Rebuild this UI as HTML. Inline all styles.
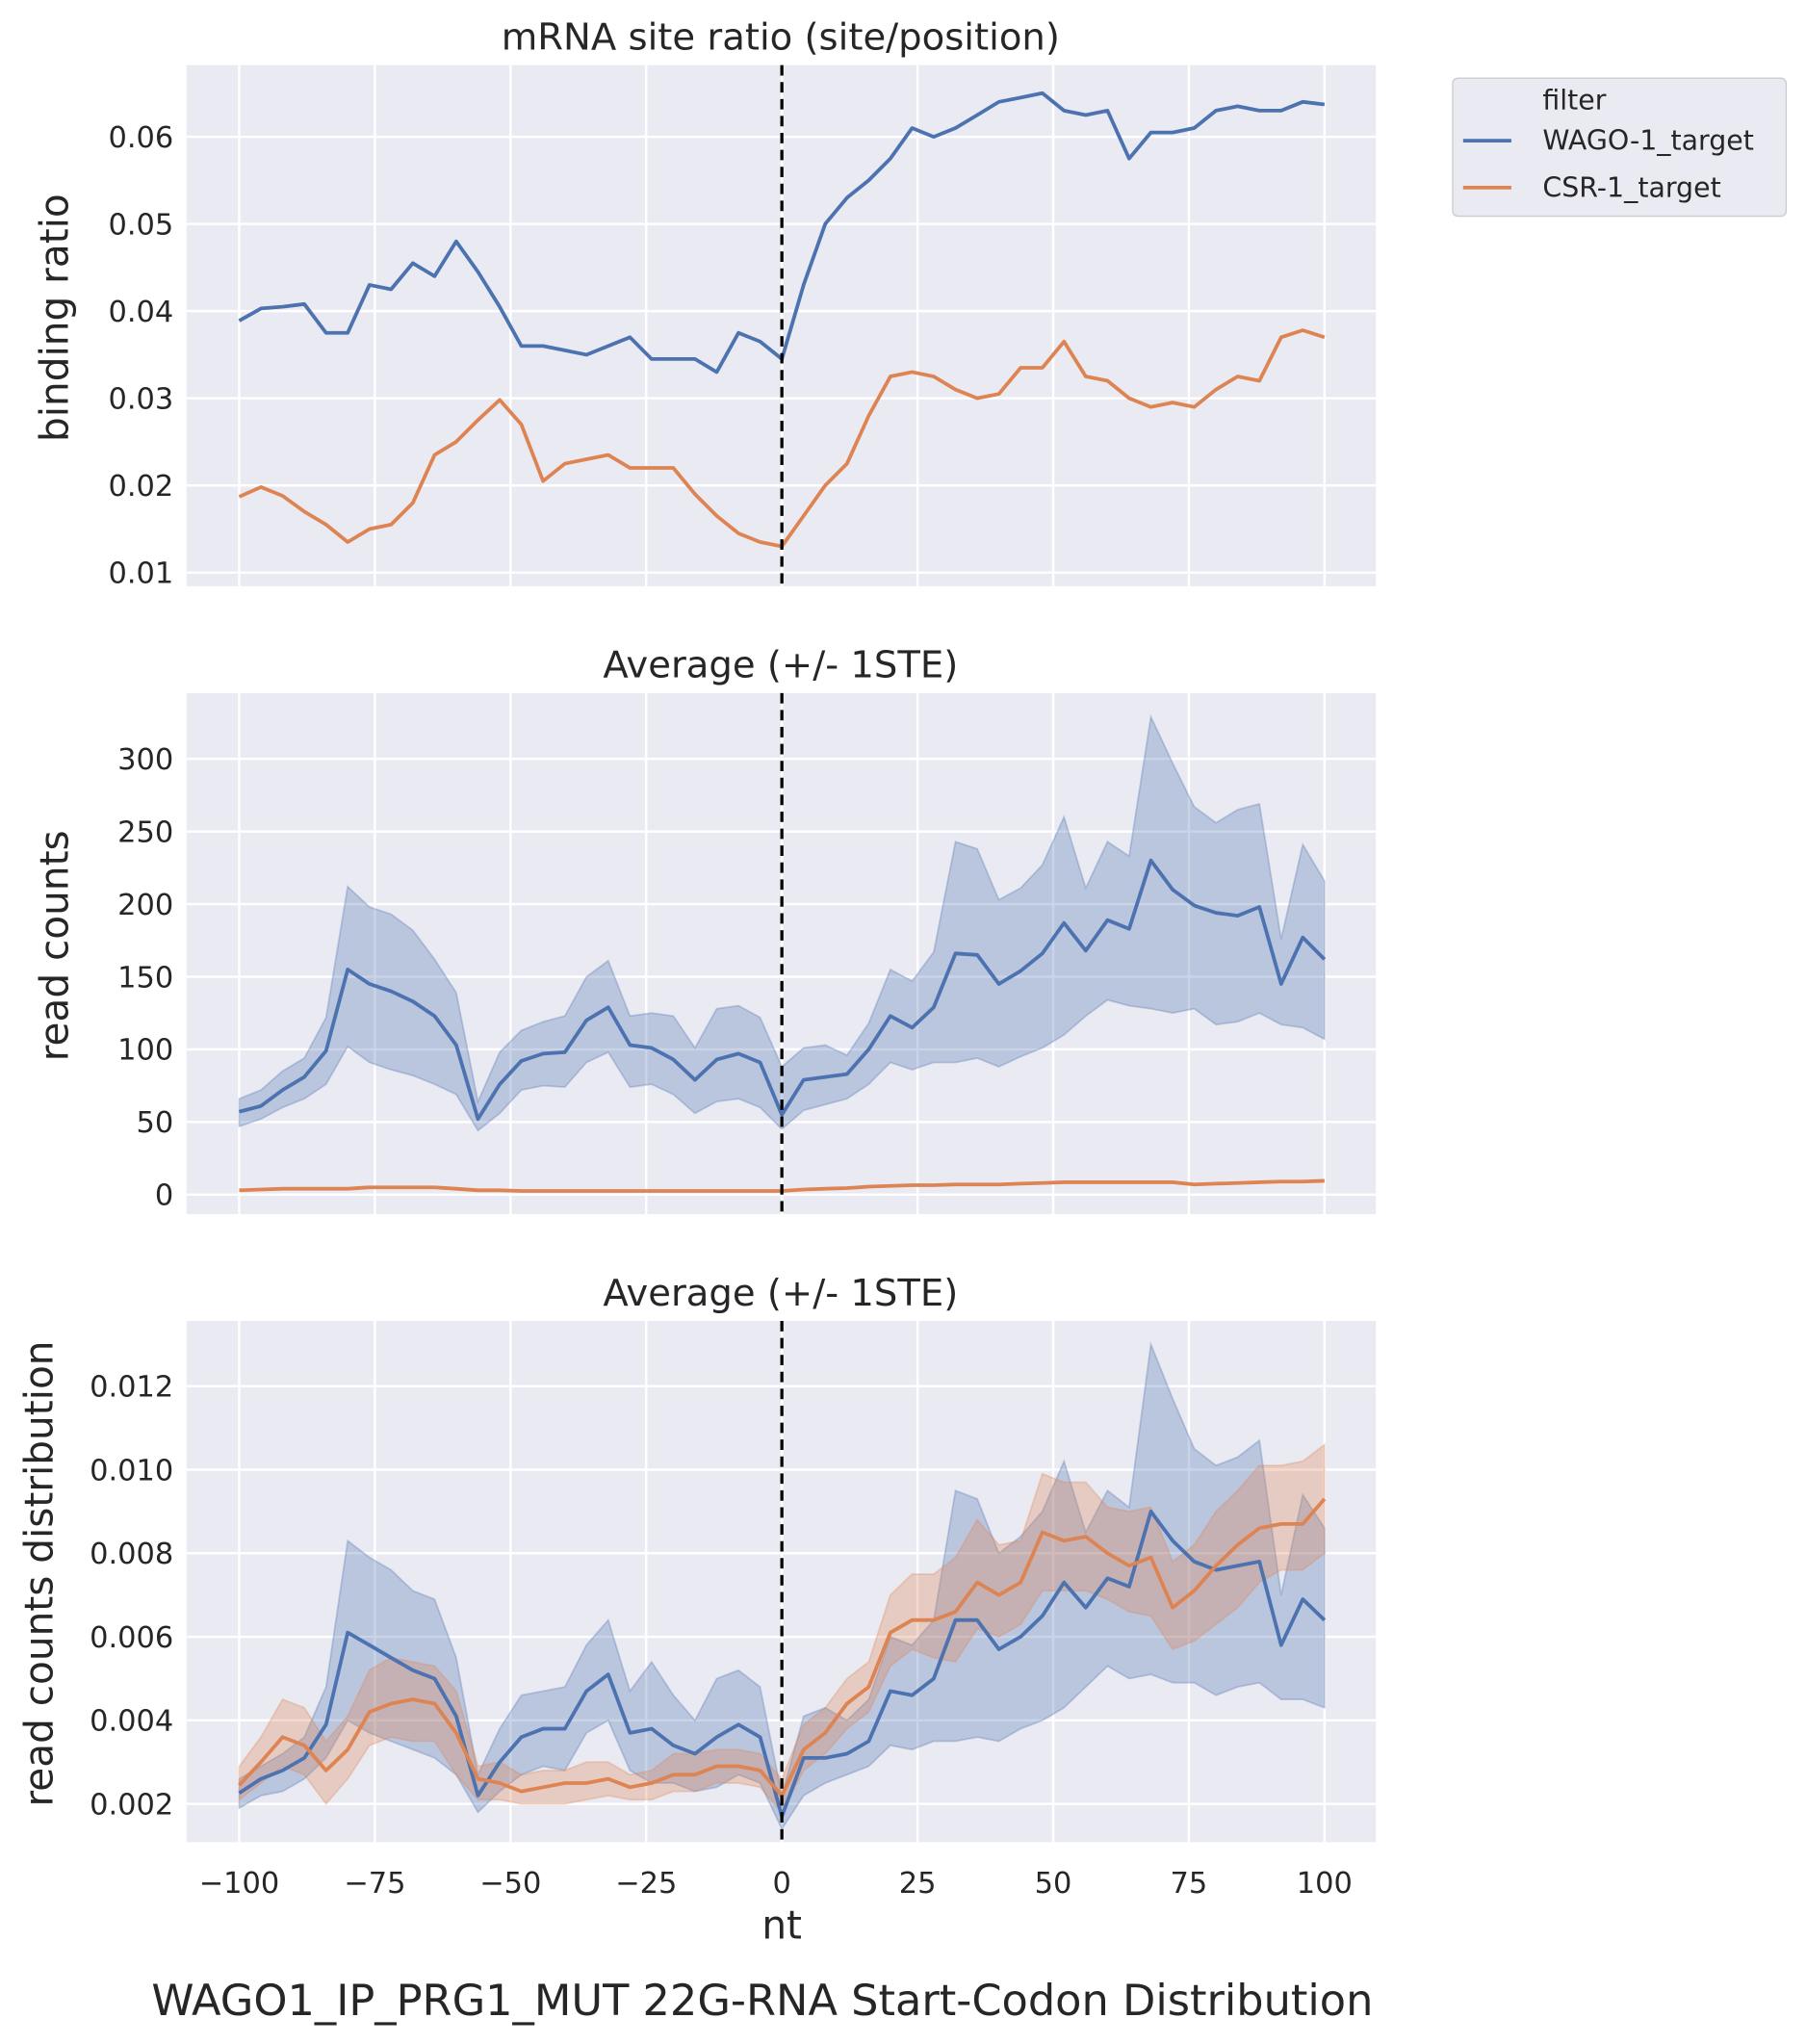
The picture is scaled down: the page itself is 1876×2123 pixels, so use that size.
<!DOCTYPE html>
<html><head><meta charset="utf-8"><style>
html,body{margin:0;padding:0;background:#fff}
svg{display:block;font-family:"DejaVu Sans","Liberation Sans",sans-serif}
</style></head><body>
<svg id="chart" xmlns="http://www.w3.org/2000/svg" width="1876" height="2123" viewBox="0 0 1386 1569"></svg>
<script>
// ---- data (positions -100..100 in steps of 4 nt) ----
const positions = [];
for (let v = -100; v <= 100; v += 4) positions.push(v);
const xTicks = [-100, -75, -50, -25, 0, 25, 50, 75, 100];

// panel 1: binding ratio
const p1Wago = [0.0389,0.0403,0.0405,0.0408,0.0375,0.0375,0.043,0.0425,0.0455,0.044,0.048,0.0445,0.0405,0.036,0.036,0.0355,0.035,0.036,0.037,0.0345,0.0345,0.0345,0.033,0.0375,0.0365,0.0345,
 0.043,0.050,0.053,0.055,0.0575,0.061,0.060,0.061,0.0625,0.064,0.0645,0.065,0.063,0.0625,0.063,0.0575,0.0605,0.0605,0.061,0.063,0.0635,0.063,0.063,0.064,0.0637];
const p1Csr = [0.0187,0.0198,0.0188,0.017,0.0155,0.0135,0.015,0.0155,0.018,0.0235,0.025,0.0275,0.0298,0.027,0.0205,0.0225,0.023,0.0235,0.022,0.022,0.022,0.019,0.0165,0.0145,0.0135,0.013,
 0.0165,0.020,0.0225,0.028,0.0325,0.033,0.0325,0.031,0.030,0.0305,0.0335,0.0335,0.0365,0.0325,0.032,0.030,0.029,0.0295,0.029,0.031,0.0325,0.032,0.037,0.0378,0.037];
const p1Ticks = [0.01,0.02,0.03,0.04,0.05,0.06];

// panel 2: read counts
const p2WagoMean = [57,61,72,81,99,155,145,140,133,123,103,52,76,92,97,98,120,129,103,101,93,79,93,97,91,55,
 79,81,83,100,123,115,129,166,165,145,154,166,187,168,189,183,230,210,199,194,192,198,145,177,162];
const p2WagoLo = [47,52,60,66,76,102,91,86,82,76,69,44,56,72,75,74,91,98,74,76,69,56,64,66,60,45,
 58,62,66,76,91,86,91,91,94,88,95,101,110,123,134,130,128,125,128,117,119,125,117,115,107];
const p2WagoHi = [66,72,85,94,122,212,198,193,182,162,139,64,98,113,119,123,150,161,123,125,123,101,128,130,122,88,
 101,103,96,118,155,147,167,243,238,203,211,227,260,211,243,233,329,297,267,256,265,269,176,241,216];
const p2Csr = [3,3.5,4,4,4,4,5,5,5,5,4,3,3,2.5,2.5,2.5,2.5,2.5,2.5,2.5,2.5,2.5,2.5,2.5,2.5,2.5,
 3.5,4,4.5,5.5,6,6.5,6.5,7,7,7,7.5,8,8.5,8.5,8.5,8.5,8.5,8.5,7,7.5,8,8.5,9,9,9.5];
const p2Ticks = [0,50,100,150,200,250,300];

// panel 3: read counts distribution
const p3WagoMean = [0.00226,0.0026,0.0028,0.0031,0.0039,0.0061,0.0058,0.0055,0.0052,0.0050,0.0041,0.0022,0.0030,0.0036,0.0038,0.0038,0.0047,0.0051,0.0037,0.0038,0.0034,0.0032,0.0036,0.0039,0.0036,0.0017,
 0.0031,0.0031,0.0032,0.0035,0.0047,0.0046,0.005,0.0064,0.0064,0.0057,0.006,0.0065,0.0073,0.0067,0.0074,0.0072,0.009,0.0083,0.0078,0.0076,0.0077,0.0078,0.0058,0.0069,0.0064];
const p3WagoLo = [0.0019,0.0022,0.0023,0.0026,0.0031,0.004,0.0037,0.0035,0.0033,0.0031,0.0027,0.0018,0.0023,0.0027,0.0029,0.0028,0.0037,0.004,0.0028,0.0025,0.0025,0.0023,0.0024,0.0027,0.0025,0.0014,
 0.0022,0.0025,0.0027,0.0029,0.0034,0.0033,0.0035,0.0035,0.0036,0.0035,0.0038,0.004,0.0043,0.0048,0.0053,0.005,0.0051,0.0049,0.0049,0.0046,0.0048,0.0049,0.0045,0.0045,0.0043];
const p3WagoHi = [0.0026,0.0029,0.0032,0.0036,0.0048,0.0083,0.0079,0.0076,0.0071,0.0069,0.0055,0.0027,0.0038,0.0046,0.0047,0.0048,0.0058,0.0064,0.0047,0.0054,0.0046,0.004,0.005,0.0052,0.0048,0.0022,
 0.0041,0.0043,0.004,0.0045,0.006,0.0058,0.0064,0.0095,0.0093,0.008,0.0084,0.009,0.0102,0.0085,0.0095,0.0091,0.013,0.0117,0.0105,0.0101,0.0103,0.0107,0.007,0.0094,0.0086];
const p3CsrMean = [0.00245,0.003,0.0036,0.0034,0.0028,0.0033,0.0042,0.0044,0.0045,0.0044,0.0037,0.0026,0.0025,0.0023,0.0024,0.0025,0.0025,0.0026,0.0024,0.0025,0.0027,0.0027,0.0029,0.0029,0.0028,0.0022,
 0.0033,0.0037,0.0044,0.0048,0.0061,0.0064,0.0064,0.0066,0.0073,0.007,0.0073,0.0085,0.0083,0.0084,0.008,0.0077,0.0079,0.0067,0.0071,0.0077,0.0082,0.0086,0.0087,0.0087,0.0093];
const p3CsrLo = [0.0021,0.0025,0.0029,0.0027,0.002,0.0026,0.0034,0.0036,0.0035,0.0035,0.0027,0.0021,0.0021,0.002,0.002,0.002,0.0021,0.0022,0.0021,0.0021,0.0023,0.0023,0.0025,0.0025,0.0024,0.0018,
 0.0028,0.0032,0.0038,0.0042,0.0053,0.0057,0.0055,0.0054,0.0062,0.006,0.0063,0.0071,0.0071,0.0071,0.0069,0.0066,0.0065,0.0057,0.0059,0.0063,0.0067,0.0073,0.0076,0.0076,0.008];
const p3CsrHi = [0.0029,0.0036,0.0045,0.0043,0.0035,0.0041,0.0052,0.0055,0.0054,0.0053,0.0047,0.0029,0.003,0.0027,0.0028,0.0028,0.003,0.003,0.0027,0.0028,0.0032,0.0032,0.0033,0.0033,0.0032,0.0026,
 0.0039,0.0043,0.005,0.0054,0.007,0.0075,0.0075,0.0079,0.0088,0.0082,0.0083,0.0099,0.0097,0.0097,0.0091,0.009,0.0091,0.0078,0.0082,0.009,0.0095,0.0101,0.0101,0.0102,0.0106];
const p3Ticks = [0.002,0.004,0.006,0.008,0.010,0.012];

// ---- drawing ----
const NS = "http://www.w3.org/2000/svg";
const svg = document.getElementById("chart");
const BLUE = "#4C72B0", ORANGE = "#DD8452";
const PL = 143, PR = 1056;
const TICK_FS = 22.5, LABEL_FS = 30, TITLE_FS = 28.5;
const xs = v => 600 + v * 4.166;

function mk(tag, attrs, parent) {
  const e = document.createElementNS(NS, tag);
  for (const k in attrs) e.setAttribute(k, attrs[k]);
  (parent || svg).appendChild(e);
  return e;
}
function txt(s, attrs, parent) { const t = mk("text", attrs, parent); t.textContent = s; return t; }

function panel(name, top, bottom, ys, ticks, fmt, title, ylabel, ylabelX, showX) {
  const g = mk("g", {});
  
  
  const bg = mk("rect", {x: PL, y: top, width: PR - PL, height: bottom - top, fill: "#EAEAF2"}, g);
  
  
  xTicks.forEach(t => {
    const l = mk("line", {x1: xs(t), x2: xs(t), y1: top, y2: bottom, stroke: "#fff", "stroke-width": 1.8}, g);
    
    
  });
  ticks.forEach(t => {
    const l = mk("line", {x1: PL, x2: PR, y1: ys(t), y2: ys(t), stroke: "#fff", "stroke-width": 1.8}, g);
    
    
    const lb = txt(fmt(t), {x: 133, y: ys(t) + 8, "text-anchor": "end", "font-size": TICK_FS, fill: "#262626"}, g);
    
    
  });
  const tt = txt(title, {x: 599, y: top - 12, "text-anchor": "middle", "font-size": TITLE_FS, fill: "#262626"}, g);
  
  
  const cy = (top + bottom) / 2 - 6;
  const yl = txt(ylabel, {x: ylabelX, y: cy, "text-anchor": "middle", "font-size": LABEL_FS, fill: "#262626", transform: `rotate(-90 ${ylabelX} ${cy})`}, g);
  
  
  if (showX) {
    xTicks.forEach(t => {
      const lb = txt(String(t).replace('-', '\u2212'), {x: xs(t), y: bottom + 39, "text-anchor": "middle", "font-size": TICK_FS, fill: "#262626"}, g);
      
      
    });
  }
  return g;
}
function band(g, lo, hi, ys, color, name) {
  let d = "";
  positions.forEach((p, i) => { d += (i ? "L" : "M") + xs(p).toFixed(1) + "," + ys(hi[i]).toFixed(1); });
  for (let i = positions.length - 1; i >= 0; i--) d += "L" + xs(positions[i]).toFixed(1) + "," + ys(lo[i]).toFixed(1);
  const p = mk("path", {d: d + "Z", fill: color, "fill-opacity": 0.3, stroke: color, "stroke-opacity": 0.3, "stroke-width": 1.3}, g);
  
  
}
function line(g, vals, ys, color, name) {
  const pts = positions.map((p, i) => xs(p).toFixed(1) + "," + ys(vals[i]).toFixed(1)).join(" ");
  const l = mk("polyline", {points: pts, fill: "none", stroke: color, "stroke-width": 2.8, "stroke-linejoin": "round"}, g);
  
  
}
function vline(g, top, bottom) {
  const l = mk("line", {x1: xs(0), x2: xs(0), y1: top, y2: bottom, stroke: "#000", "stroke-width": 2.4, "stroke-dasharray": "8,5"}, g);
  
  
}

// Panel 1
const y1 = v => 105 + (0.06 - v) / 0.01 * 66.9;
const g1 = panel("binding-ratio-panel", 50, 450, y1, p1Ticks, t => t.toFixed(2), "mRNA site ratio (site/position)", "binding ratio", 52, false);
line(g1, p1Wago, y1, BLUE, "wago-binding-line");
line(g1, p1Csr, y1, ORANGE, "csr-binding-line");
vline(g1, 50, 450);

// Panel 2
const y2 = v => 917 - v * 1.115;
const g2 = panel("read-counts-panel", 532, 932, y2, p2Ticks, t => String(t), "Average (+/- 1STE)", "read counts", 52, false);
band(g2, p2WagoLo, p2WagoHi, y2, BLUE, "wago-counts-ste-band");
line(g2, p2WagoMean, y2, BLUE, "wago-counts-line");
line(g2, p2Csr, y2, ORANGE, "csr-counts-line");
vline(g2, 532, 932);

// Panel 3
const y3 = v => 1064 + (0.012 - v) / 0.001 * 32.07;
const g3 = panel("read-distribution-panel", 1014, 1414, y3, p3Ticks, t => t.toFixed(3), "Average (+/- 1STE)", "read counts distribution", 40, true);
band(g3, p3WagoLo, p3WagoHi, y3, BLUE, "wago-distribution-ste-band");
band(g3, p3CsrLo, p3CsrHi, y3, ORANGE, "csr-distribution-ste-band");
line(g3, p3WagoMean, y3, BLUE, "wago-distribution-line");
line(g3, p3CsrMean, y3, ORANGE, "csr-distribution-line");
vline(g3, 1014, 1414);

const xl = txt("nt", {x: 600, y: 1488, "text-anchor": "middle", "font-size": LABEL_FS, fill: "#262626"});


const st = txt("WAGO1_IP_PRG1_MUT 22G-RNA Start-Codon Distribution", {x: 585, y: 1547, "text-anchor": "middle", "font-size": 33, fill: "#262626"});



// Legend
const lg = mk("g", {});


mk("rect", {x: 1115, y: 60, width: 256, height: 106, rx: 4, fill: "#EAEAF2", stroke: "#cccccc", "stroke-width": 1}, lg);
txt("filter", {x: 1184, y: 84, "font-size": 21, fill: "#262626"}, lg);
const e1 = mk("g", {}, lg);


mk("line", {x1: 1123, x2: 1160, y1: 108, y2: 108, stroke: BLUE, "stroke-width": 2.8}, e1);
txt("WAGO-1_target", {x: 1184, y: 115, "font-size": 21, fill: "#262626"}, e1);
const e2 = mk("g", {}, lg);


mk("line", {x1: 1123, x2: 1160, y1: 144, y2: 144, stroke: ORANGE, "stroke-width": 2.8}, e2);
txt("CSR-1_target", {x: 1184, y: 151, "font-size": 21, fill: "#262626"}, e2);
</script>
</body></html>
